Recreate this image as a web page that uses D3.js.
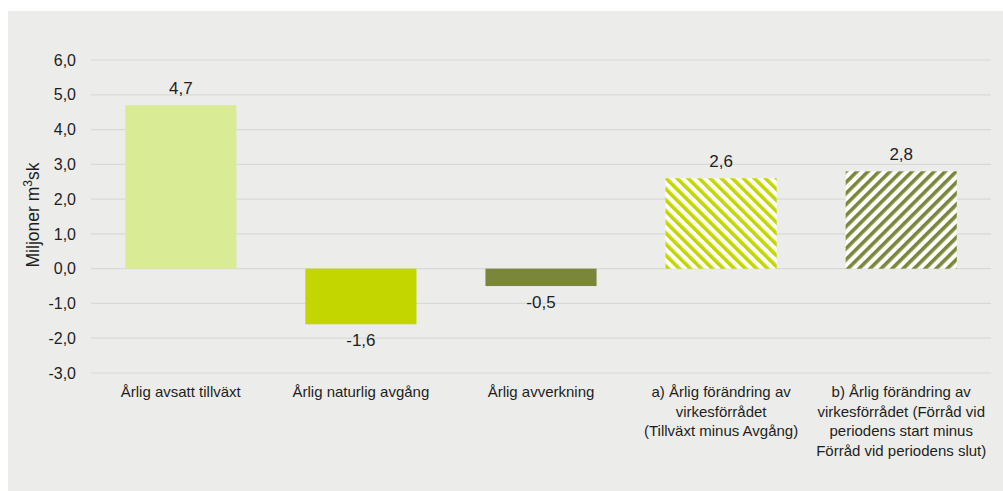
<!DOCTYPE html>
<html>
<head>
<meta charset="utf-8">
<script src="https://cdn.jsdelivr.net/npm/d3@7"></script>
<style>
  body { margin: 0; background: #ffffff; }
  svg { display: block; font-family: "Liberation Sans", Arial, sans-serif; }
</style>
</head>
<body>
<svg id="chart"></svg>
<script>
// data
const categories = [
  "Årlig avsatt tillväxt",
  "Årlig naturlig avgång",
  "Årlig avverkning",
  "a) Årlig förändring av|virkesförrådet|(Tillväxt minus Avgång)",
  "b) Årlig förändring av|virkesförrådet (Förråd vid|periodens start minus|Förråd vid periodens slut)"
];
const values = [4.7, -1.6, -0.5, 2.6, 2.8];
const valueLabels = ["4,7", "-1,6", "-0,5", "2,6", "2,8"];
const yTicks = [-3, -2, -1, 0, 1, 2, 3, 4, 5, 6];
const barFills = ["#d9ec95", "#c4d600", "#7a873a", "url(#hatchA)", "url(#hatchB)"];

const width = 1003, height = 491;
const margin = {top: 60, right: 12, bottom: 118, left: 91};

const svg = d3.select('#chart')
    .attr('width', width)
    .attr('height', height);

// grey panel behind the chart
svg.append('rect')
    .attr('x', 8).attr('y', 11)
    .attr('width', width - 8).attr('height', height - 11)
    .attr('fill', '#ecedea');

// hatch patterns for the two change bars
const defs = svg.append('defs');
function hatch(id, color, angle) {
  const p = defs.append('pattern')
      .attr('id', id)
      .attr('patternUnits', 'userSpaceOnUse')
      .attr('width', 7.8).attr('height', 7.8)
      .attr('patternTransform', `rotate(${angle})`);
  p.append('rect').attr('width', 7.8).attr('height', 7.8).attr('fill', '#ffffff');
  p.append('rect').attr('width', 3.6).attr('height', 7.8).attr('fill', color);
}
hatch('hatchA', '#c4d600', -45);
hatch('hatchB', '#7a873a', 45);

const xScale = d3.scaleBand()
    .domain(categories)
    .range([margin.left, width - margin.right])
    .paddingInner(0.383)
    .paddingOuter(0.19);

const yScale = d3.scaleLinear()
    .domain([-3, 6])
    .range([373, 60]);

// gridlines
svg.append('g')
  .selectAll('line')
  .data(yTicks)
  .join('line')
    .attr('x1', margin.left)
    .attr('x2', width - margin.right)
    .attr('y1', d => yScale(d))
    .attr('y2', d => yScale(d))
    .attr('stroke', '#d8dad7')
    .attr('stroke-width', 1.2);

// y axis labels (hyphen minus, comma decimal like the original)
const yAxis = d3.axisLeft(yScale)
    .tickValues(yTicks)
    .tickSize(0)
    .tickPadding(0)
    .tickFormat(d => d.toFixed(1).replace('.', ','));

const yAxisG = svg.append('g')
    .attr('transform', 'translate(76,0)')
    .call(yAxis);
yAxisG.select('.domain').remove();
yAxisG.selectAll('text')
    .attr('font-size', 16)
    .attr('fill', '#1e1e1e')
    .attr('font-family', '"Liberation Sans", Arial, sans-serif');

// axis title
const title = svg.append('text')
    .attr('transform', 'translate(39,215) rotate(-90)')
    .attr('text-anchor', 'middle')
    .attr('font-size', 17.5)
    .attr('fill', '#1e1e1e')
    .text('Miljoner m');
title.append('tspan').attr('baseline-shift', 'super').attr('font-size', 12).text('3');
title.append('tspan').text('sk');

// bars
const data = categories.map((c, i) => ({cat: c, value: values[i], label: valueLabels[i], fill: barFills[i]}));

svg.append('g')
  .selectAll('rect')
  .data(data)
  .join('rect')
    .attr('x', d => xScale(d.cat))
    .attr('width', xScale.bandwidth())
    .attr('y', d => yScale(Math.max(0, d.value)))
    .attr('height', d => Math.abs(yScale(d.value) - yScale(0)))
    .attr('fill', d => d.fill);

// value labels
svg.append('g')
  .selectAll('text')
  .data(data)
  .join('text')
    .attr('x', d => xScale(d.cat) + xScale.bandwidth() / 2)
    .attr('y', d => d.value >= 0 ? yScale(d.value) - 11 : yScale(d.value) + 22)
    .attr('text-anchor', 'middle')
    .attr('font-size', 17)
    .attr('fill', '#1e1e1e')
    .text(d => d.label);

// category labels
const catG = svg.append('g')
  .selectAll('text')
  .data(data)
  .join('text')
    .attr('text-anchor', 'middle')
    .attr('font-size', 15)
    .attr('fill', '#1e1e1e');
catG.selectAll('tspan')
  .data(d => d.cat.split('|').map(t => ({t, x: xScale(d.cat) + xScale.bandwidth() / 2})))
  .join('tspan')
    .attr('x', d => d.x)
    .attr('y', (d, i) => 397 + i * 19.6)
    .text(d => d.t);
</script>
</body>
</html>
